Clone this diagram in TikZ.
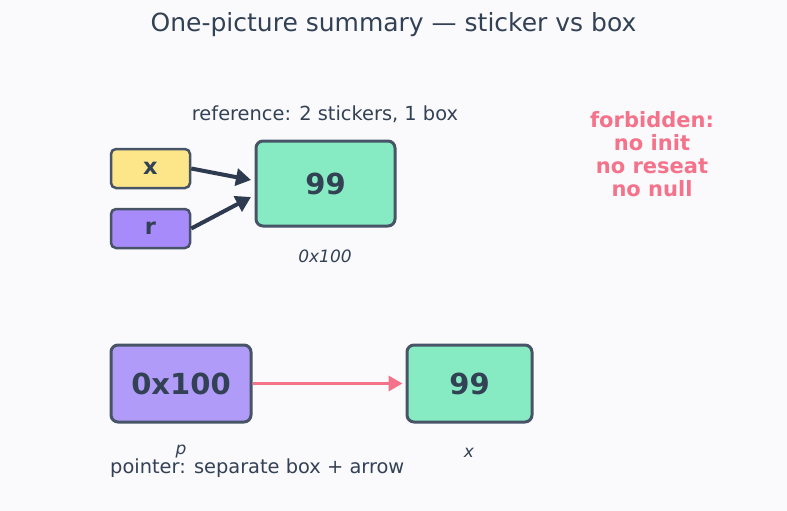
\documentclass[tikz,border=0pt]{standalone}
\usepackage{fontspec}
\setmainfont{DejaVu Sans}
\usetikzlibrary{arrows.meta,calc}
\definecolor{bg}{HTML}{FAFAFD}
\definecolor{ink}{HTML}{334155}
\definecolor{edge}{HTML}{475467}
\definecolor{yel}{HTML}{FDE68A}
\definecolor{pur}{HTML}{A78BFA}
\definecolor{purl}{HTML}{B09CF8}
\definecolor{mint}{HTML}{86EBC2}
\definecolor{rose}{HTML}{F4728A}
\definecolor{arr}{HTML}{2E3A4F}
\tikzset{
  fs/.style={font=\fontsize{#1}{#1}\selectfont},
  cell/.style={draw=edge, line width=2.5pt, rounded corners=5pt, inner sep=0pt, text=ink},
  bigcell/.style={draw=edge, line width=3pt, rounded corners=7pt, inner sep=0pt, text=ink},
  darr/.style={draw=arr, line width=4pt, -{Triangle[length=15pt,width=17pt]}},
  rarr/.style={draw=rose, line width=3.5pt, -{Triangle[length=14pt,width=15pt]}},
  lbl/.style={text=ink, inner sep=0pt},
}
\begin{document}
\begin{tikzpicture}[x=1pt,y=-1pt]
\fill[bg] (0,0) rectangle (787,511);
\useasboundingbox (0,0) rectangle (787,511);
\node[lbl, fs=25] (title) at (393.5,25) {One-picture summary — sticker vs box};
\node[lbl, fs=19.4] (ref) at (325,114) {reference: 2 stickers, 1 box};
\node[cell, fill=yel, minimum width=79pt, minimum height=39pt, fs=22.5] (x) at (150.5,168.5) {\textbf{x}};
\node[cell, fill=pur, minimum width=79pt, minimum height=39pt, fs=22.5] (r) at (150.5,228.5) {\textbf{r}};
\node[bigcell, fill=mint, minimum width=139pt, minimum height=85pt, fs=29] (g1) at (325.5,183.5) {\textbf{99}};
\node[lbl, fs=17] (addr) at (325,256) {\textit{0x100}};
\coordinate (t1) at (251,180);
\coordinate (t2) at (251,197);
\draw[darr] (x.east) -- (t1);
\draw[darr] (r.east) -- (t2);
\node[text=rose, align=center, inner sep=0pt, font=\fontsize{21}{23}\selectfont\bfseries] (forb) at (652,154) {forbidden:\\no init\\no reseat\\no null};
\node[bigcell, fill=purl, minimum width=140pt, minimum height=77pt, fs=29] (p) at (181,383.5) {\textbf{0x100}};
\node[bigcell, fill=mint, minimum width=125pt, minimum height=77pt, fs=29] (g2) at (469.5,383.5) {\textbf{99}};
\draw[rarr] (p.east) -- ($(g2.west)+(-3,0)$);
\node[lbl, fs=17] (pl) at (181,452) {\textit{p}};
\node[lbl, fs=17] (xl) at (469,453) {\textit{x}};
\node[lbl, fs=19.4, anchor=west] (ptr) at (110,468) {pointer: separate box + arrow};
\end{tikzpicture}
\end{document}
